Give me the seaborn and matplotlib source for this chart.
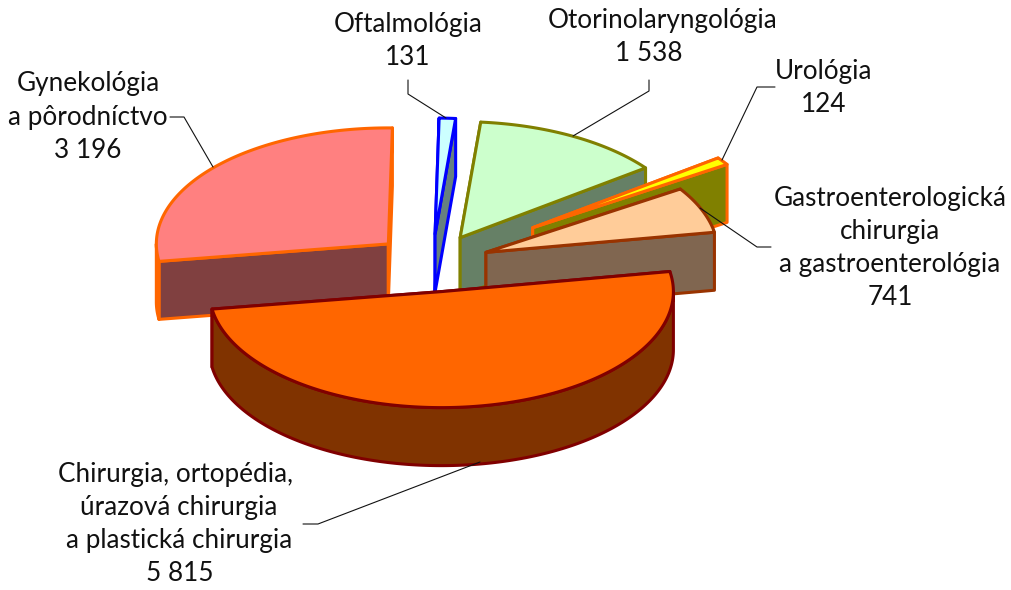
import numpy as np
import matplotlib
matplotlib.use("Agg")
import matplotlib.pyplot as plt
from matplotlib.patches import Polygon
import seaborn as sns

labels = [["Oftalmológia", "131"], ["Otorinolaryngológia", "1 538"], ["Urológia", "124"],
          ["Gastroenterologická", "chirurgia", "a gastroenterológia", "741"],
          ["Chirurgia, ortopédia,", "úrazová chirurgia", "a plastická chirurgia", "5 815"],
          ["Gynekológia", "a pôrodníctvo", "3 196"]]
values = [131, 1538, 124, 741, 5815, 3196]
explode = [0.25, 0.25, 0.53, 0.25, 0.25, 0.25]
tops = ["#CCFFFF", "#CCFFCC", "#FFFF00", "#FFCC99", "#FF6600", "#FF8080"]
walls = ["#668080", "#668066", "#808000", "#806650", "#803300", "#804040"]
edges = ["#0000FF", "#808000", "#FF6600", "#993300", "#800000", "#FF6600"]
draw_order = [5, 0, 1, 2, 3, 4]
label_xy = [(408, 41), (655, 37), (824, 88), (890, 248), (179, 524), (88, 117)]
line_dx = [[0, 0], [8, -6], [0, 0], [0, 0, 0, 0], [-3, 0, 0, 1], [0, 0, 0]]
leaders = [[(408, 80), (408, 94), (446, 118)],
           [(649, 80), (649, 91), (573, 136)],
           [(775, 87), (757, 87), (722, 160)],
           [(771, 247), (757, 247), (700, 208)],
           [(303, 524), (318, 524), (480, 462)],
           [(170, 117), (184, 117), (213, 167)]]

CX, CY, A, B, H = 432, 263, 232, 116, 58
START = 1.0
LINE_GAP = 33

sns.set_theme(style="white")
plt.rcParams["font.family"] = ["Lato", "DejaVu Sans"]
fig = plt.figure(figsize=(10.11, 5.90), dpi=100)
ax = fig.add_axes([0, 0, 1, 1])
ax.set_xlim(0, 1011)
ax.set_ylim(590, 0)
ax.axis("off")
sns.despine(ax=ax, left=True, bottom=True)


def rim(ox, oy, t):
    r = np.radians(t)
    return np.column_stack([ox + A * np.sin(r), oy - B * np.cos(r)])


total = sum(values)
angles = START + np.concatenate([[0], np.cumsum(values)]) / total * 360
z = 2
for i in draw_order:
    t0, t1 = angles[i], angles[i + 1]
    mid = np.radians((t0 + t1) / 2)
    ox = CX + explode[i] * A * np.sin(mid)
    oy = CY - explode[i] * B * np.cos(mid)
    apex = np.array([[ox, oy]])
    down = np.array([0, H])
    arc = rim(ox, oy, np.linspace(t0, t1, 200))
    kw = dict(lw=2.2, joinstyle="round", zorder=z)
    for e in (arc[0:1], arc[-1:]):
        q = np.vstack([apex, e, e + down, apex + down])
        ax.add_patch(Polygon(q, fc=walls[i], ec=edges[i], **kw))
    lo, hi = max(t0, 90), min(t1, 270)
    if hi > lo:
        f = rim(ox, oy, np.linspace(lo, hi, 200))
        ax.add_patch(Polygon(np.vstack([f, f[::-1] + down]), fc=walls[i], ec=edges[i], **kw))
    ax.add_patch(Polygon(np.vstack([apex, arc]), fc=tops[i], ec=edges[i], **kw))
    z += 1

for lines, (x, y), dxs, pts in zip(labels, label_xy, line_dx, leaders):
    n = len(lines)
    for k, (s, dx) in enumerate(zip(lines, dxs)):
        ax.text(x + dx, y + (k - (n - 1) / 2) * LINE_GAP, s, ha="center", va="center",
                fontsize=18.8, color="#111111", zorder=20)
    p = np.array(pts)
    ax.plot(p[:, 0], p[:, 1], color="#111111", lw=0.8, zorder=19)

fig.savefig("out.png", dpi=100)
